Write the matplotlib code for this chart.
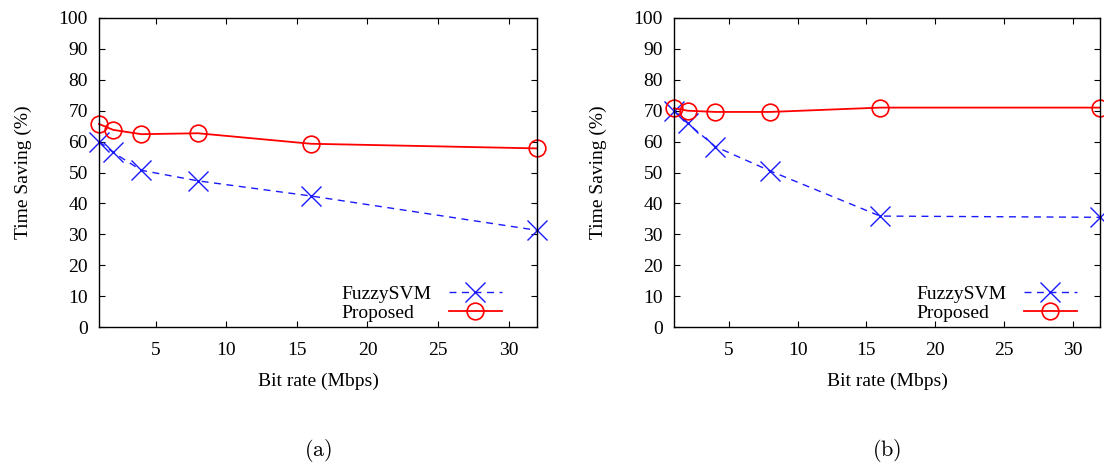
import numpy as np
import matplotlib.pyplot as plt

plt.rcParams['font.family'] = ['Liberation Serif', 'DejaVu Serif']
plt.rcParams['mathtext.fontset'] = 'cm'

bitrate = [1, 2, 4, 8, 16, 32]

fuzzy_a = [60.0, 56.5, 50.7, 47.3, 42.4, 31.3]
proposed_a = [65.7, 63.8, 62.4, 62.7, 59.3, 57.8]

fuzzy_b = [70.0, 65.9, 58.4, 50.5, 35.9, 35.5]
proposed_b = [70.8, 70.0, 69.6, 69.6, 71.0, 71.0]

panels = [(fuzzy_a, proposed_a, '(a)'), (fuzzy_b, proposed_b, '(b)')]

W, H = 1104, 468
fig = plt.figure(figsize=(W / 100, H / 100), dpi=100)
boxes = [(99, 537), (674, 1100)]
leg_right = [502, 1077]
y_top, y_bot = 18, 327
fs = 14

legs = []
for (x0, x1), lr, (fz, pr, cap) in zip(boxes, leg_right, panels):
    ax = fig.add_axes([x0 / W, 1 - y_bot / H, (x1 - x0) / W, (y_bot - y_top) / H])
    ax.plot(bitrate, fz, color='#1a1aff', ls=(0, (5, 4)), lw=1.0,
            marker='x', ms=15, mew=1.0, label='FuzzySVM', clip_on=False)
    ax.plot(bitrate, pr, color='#ff0000', ls='-', lw=1.3,
            marker='o', ms=12, mfc='none', mew=1.2, label='Proposed', clip_on=False)
    ax.set_xlim(1, 32)
    ax.set_ylim(0, 100)
    ax.set_xticks([5, 10, 15, 20, 25, 30])
    ax.set_yticks(np.arange(0, 101, 10))
    ax.tick_params(direction='in', top=True, right=True, length=4.5, labelsize=fs)
    ax.tick_params(axis='x', pad=11)
    ax.tick_params(axis='y', pad=8)
    ax.set_xlabel('Bit rate (Mbps)', fontsize=fs, labelpad=10)
    ax.set_ylabel('Time Saving (%)', fontsize=fs, labelpad=19)
    for s in ax.spines.values():
        s.set_linewidth(1.0)
    leg = ax.legend(loc='lower right', frameon=False, markerfirst=False, fontsize=fs,
                    handlelength=2.75, labelspacing=0.08, borderpad=0, borderaxespad=0,
                    handletextpad=0.85,
                    bbox_to_anchor=(lr / W, 1 - 322 / H), bbox_transform=fig.transFigure)
    legs.append(leg)
    fig.text(((x0 + x1) / 2) / W, 1 - 451 / H, r'$\mathrm{' + cap + '}$',
             ha='center', va='center', fontsize=16)

# gnuplot style: legend text left aligned
fig.canvas.draw()
r = fig.canvas.get_renderer()
for leg in legs:
    texts = leg.get_texts()
    ws = [t.get_window_extent(r).width for t in texts]
    for t, w in zip(texts, ws):
        t.set_x(w - max(ws))

plt.savefig('out.png', dpi=100)
